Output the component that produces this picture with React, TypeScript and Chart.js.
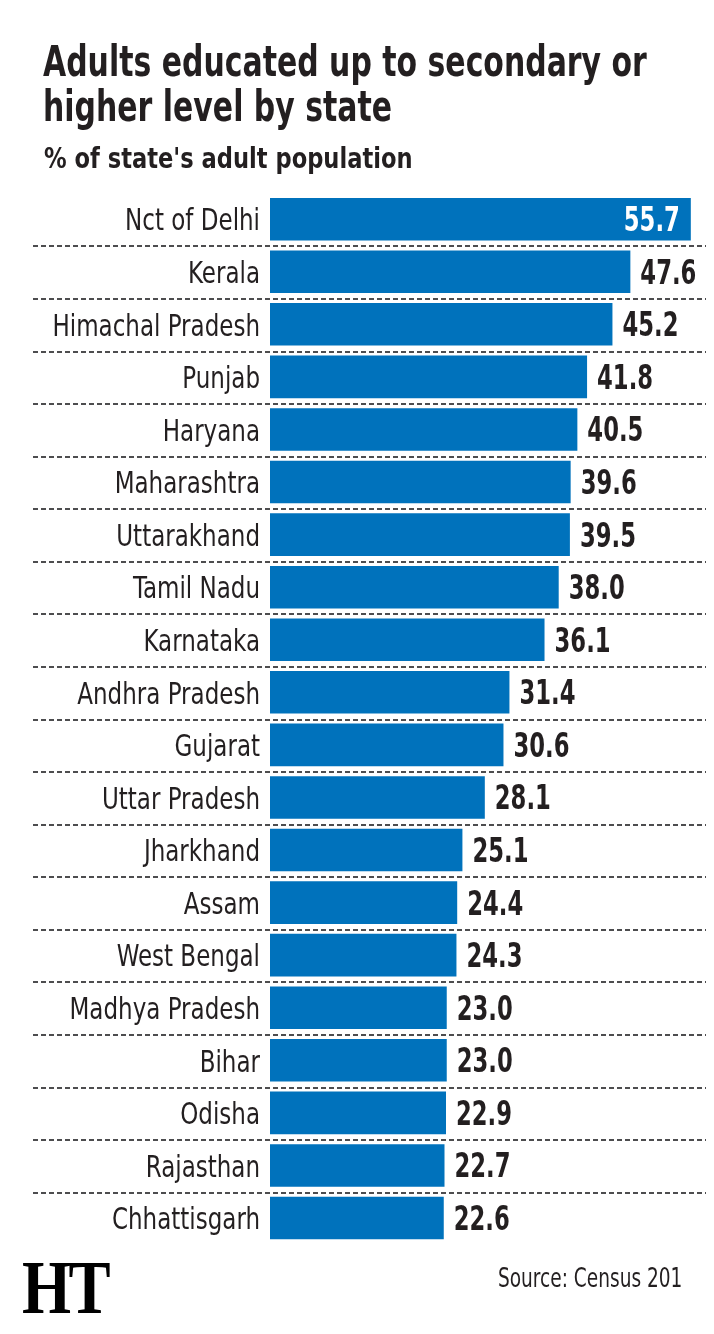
import React, { useEffect, useRef } from "react";
import { Chart, registerables } from "chart.js";

Chart.register(...registerables);

// Census share of adults educated to secondary level or above, by state
const states = [
  "Nct of Delhi",
  "Kerala",
  "Himachal Pradesh",
  "Punjab",
  "Haryana",
  "Maharashtra",
  "Uttarakhand",
  "Tamil Nadu",
  "Karnataka",
  "Andhra Pradesh",
  "Gujarat",
  "Uttar Pradesh",
  "Jharkhand",
  "Assam",
  "West Bengal",
  "Madhya Pradesh",
  "Bihar",
  "Odisha",
  "Rajasthan",
  "Chhattisgarh",
];

const shares = [
  55.7, 47.6, 45.2, 41.8, 40.5, 39.6, 39.5, 38.0, 36.1, 31.4, 30.6, 28.1, 25.1,
  24.4, 24.3, 23.0, 23.0, 22.9, 22.7, 22.6,
];

const axisMin = -0.68;
const axisMax = 57.6;

const COND = "'DejaVu Sans Condensed', 'DejaVu Sans', sans-serif";
const INK = "#231f20";
const BAR = "#0072bc";

// draw horizontally squeezed text on the canvas
function squeezed(
  ctx: CanvasRenderingContext2D,
  text: string,
  x: number,
  y: number,
  k: number,
  align: CanvasTextAlign
) {
  ctx.save();
  ctx.translate(x, y);
  ctx.scale(k, 1);
  ctx.textAlign = align;
  ctx.textBaseline = "alphabetic";
  ctx.fillText(text, 0, 0);
  ctx.restore();
}

// dashed separators between rows
const rowRules = {
  id: "rowRules",
  beforeDatasetsDraw(chart: any) {
    const y = chart.scales.y;
    const ctx = chart.ctx;
    ctx.save();
    ctx.strokeStyle = "#4d4d4f";
    ctx.lineWidth = 2;
    ctx.setLineDash([5, 3]);
    for (let i = 0; i < states.length - 1; i++) {
      const py = Math.round((y.getPixelForValue(i) + y.getPixelForValue(i + 1)) / 2 + 1);
      ctx.beginPath();
      ctx.moveTo(33, py);
      ctx.lineTo(706, py);
      ctx.stroke();
    }
    ctx.restore();
  },
};

// state names, right-aligned against the bars
const stateLabels = {
  id: "stateLabels",
  afterDatasetsDraw(chart: any) {
    const y = chart.scales.y;
    const ctx = chart.ctx;
    ctx.save();
    ctx.font = `31px ${COND}`;
    ctx.fillStyle = INK;
    states.forEach((name, i) => {
      squeezed(ctx, name, chart.chartArea.left - 10, y.getPixelForValue(i) + 11.3, 0.825, "right");
    });
    ctx.restore();
  },
};

// value printed at the end of each bar (inside when it would not fit)
const valueLabels = {
  id: "valueLabels",
  afterDatasetsDraw(chart: any) {
    const ctx = chart.ctx;
    const meta = chart.getDatasetMeta(0);
    const k = 0.765;
    ctx.save();
    ctx.font = `bold 33px ${COND}`;
    meta.data.forEach((bar: any, i: number) => {
      const text = shares[i].toFixed(1);
      const w = ctx.measureText(text).width * k;
      const baseline = bar.y + 12;
      if (bar.x + 10 + w > chart.chartArea.right) {
        ctx.fillStyle = "#ffffff";
        squeezed(ctx, text, bar.x - 11, baseline, k, "right");
      } else {
        ctx.fillStyle = INK;
        squeezed(ctx, text, bar.x + 10, baseline, k, "left");
      }
    });
    ctx.restore();
  },
};

function StateChart() {
  const ref = useRef<HTMLCanvasElement | null>(null);

  useEffect(() => {
    if (!ref.current) return;
    const chart = new Chart(ref.current, {
      type: "bar",
      data: {
        labels: states,
        datasets: [
          {
            data: shares,
            backgroundColor: BAR,
            borderWidth: 0,
            barPercentage: 0.81,
            categoryPercentage: 1,
            base: axisMin,
          },
        ],
      },
      options: {
        indexAxis: "y",
        animation: false,
        responsive: false,
        devicePixelRatio: 1,
        layout: { padding: { top: 192.9, bottom: 89.7, left: 0, right: 9 } },
        plugins: {
          legend: { display: false },
          tooltip: { enabled: false },
          title: { display: false },
        },
        scales: {
          x: { display: false, min: axisMin, max: axisMax },
          y: {
            grid: { display: false },
            border: { display: false },
            ticks: { display: false },
            afterFit(scale: any) {
              scale.width = 270;
            },
          },
        },
      },
      plugins: [rowRules, stateLabels, valueLabels],
    } as any);
    return () => chart.destroy();
  }, []);

  return (
    <canvas
      ref={ref}
      width={714}
      height={1334}
      style={{ position: "absolute", left: 0, top: 0, width: 714, height: 1334 }}
    />
  );
}

export default function App() {
  return (
    <div
      style={{
        position: "absolute",
        left: 0,
        top: 0,
        width: 714,
        height: 1334,
        background: "#ffffff",
        overflow: "hidden",
        color: INK,
        fontFamily: COND,
      }}
    >
      <StateChart />
      <div
        style={{
          position: "absolute",
          left: 43,
          top: 38.7,
          fontSize: 42,
          lineHeight: "45.5px",
          fontWeight: 700,
          whiteSpace: "nowrap",
          transform: "scaleX(0.792)",
          transformOrigin: "left top",
        }}
      >
        Adults educated up to secondary or
        <br />
        higher level by state
      </div>
      <div
        style={{
          position: "absolute",
          left: 44,
          top: 143.5,
          fontSize: 29,
          lineHeight: "29px",
          fontWeight: 700,
          whiteSpace: "nowrap",
          transform: "scaleX(0.866)",
          transformOrigin: "left top",
        }}
      >
        % of state's adult population
      </div>
      <div
        style={{
          position: "absolute",
          left: 22,
          top: 1249.4,
          fontSize: 76,
          lineHeight: "76px",
          fontWeight: 700,
          fontFamily: "'Liberation Serif', 'DejaVu Serif', serif",
          color: "#000000",
          letterSpacing: -3,
          whiteSpace: "nowrap",
          transform: "scaleX(0.83)",
          transformOrigin: "left top",
        }}
      >
        HT
      </div>
      <div
        style={{
          position: "absolute",
          right: 32,
          top: 1264,
          fontSize: 27,
          lineHeight: "27px",
          whiteSpace: "nowrap",
          transform: "scaleX(0.764)",
          transformOrigin: "right top",
        }}
      >
        Source: Census 201
      </div>
    </div>
  );
}
